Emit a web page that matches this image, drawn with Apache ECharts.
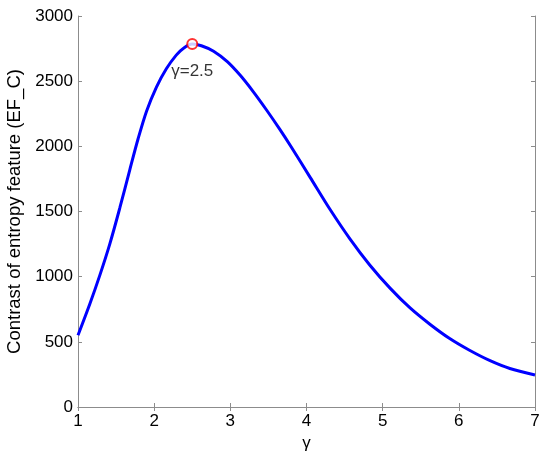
<!DOCTYPE html>
<html>
<head>
<meta charset="utf-8">
<script src="https://cdn.jsdelivr.net/npm/echarts@6/dist/echarts.min.js"></script>
<style>
  html, body { margin: 0; padding: 0; background: #fff; }
  #main { width: 550px; height: 459px; }
</style>
</head>
<body>
<div id="main"></div>
<script>
// gamma values and contrast of entropy feature
const gammaList = [1.0, 1.155, 1.286, 1.417, 1.548, 1.68, 1.79, 1.9, 2.03, 2.16, 2.29, 2.39, 2.5, 2.62, 2.78, 2.96, 3.13, 3.3, 3.48, 3.65, 3.8, 4.05, 4.31, 4.57, 4.83, 5.1, 5.36, 5.62, 5.88, 6.14, 6.41, 6.67, 7.0]
const efcList = [550, 790, 1010, 1250, 1525, 1820, 2060, 2270, 2455, 2595, 2700, 2755, 2785, 2772, 2730, 2650, 2545, 2420, 2275, 2130, 1995, 1760, 1515, 1290, 1090, 910, 760, 635, 525, 435, 355, 295, 245]
const peakPoint = [2.5, 2785]
const peakLabel = 'γ=2.5'

const font = 'Liberation Sans, Arial, Helvetica, sans-serif'
const axisColor = '#8c8c8c'

const myChart = echarts.init(document.getElementById('main'))

const boxAxis = {
  axisLine: { show: true, lineStyle: { color: axisColor, width: 1 } },
  axisTick: { show: true, inside: true, length: 4, lineStyle: { color: axisColor } },
  splitLine: { show: false }
}

const option = {
  animation: false,
  backgroundColor: '#fff',
  grid: { left: 78, right: 15, top: 16, bottom: 52, containLabel: false, outerBoundsMode: 'none' },
  xAxis: [
    {
      type: 'value',
      min: 1,
      max: 7,
      interval: 1,
      name: 'γ',
      nameLocation: 'middle',
      nameGap: 27,
      nameTextStyle: { color: '#000', fontSize: 17, fontFamily: font },
      axisLabel: { color: '#000', fontSize: 17, fontFamily: font, margin: 6, formatter: (v) => String(v) },
      ...boxAxis
    },
    {
      type: 'value',
      position: 'top',
      min: 1,
      max: 7,
      interval: 1,
      axisLabel: { show: false },
      ...boxAxis
    }
  ],
  yAxis: [
    {
      type: 'value',
      min: 0,
      max: 3000,
      interval: 500,
      name: 'Contrast of entropy feature (EF_C)',
      nameLocation: 'middle',
      nameGap: 49,
      nameTextStyle: { color: '#000', fontSize: 18.5, fontFamily: font },
      axisLabel: { color: '#000', fontSize: 17, fontFamily: font, margin: 5, formatter: (v) => String(v) },
      ...boxAxis
    },
    {
      type: 'value',
      position: 'right',
      min: 0,
      max: 3000,
      interval: 500,
      axisLabel: { show: false },
      ...boxAxis
    }
  ],
  series: [
    {
      name: 'EF_C',
      type: 'line',
      smooth: 0.3,
      showSymbol: false,
      data: gammaList.map((g, i) => [g, efcList[i]]),
      lineStyle: { color: '#0000ff', width: 3 },
      z: 2
    },
    {
      name: 'peak',
      type: 'scatter',
      data: [peakPoint],
      symbol: 'circle',
      symbolSize: 10,
      itemStyle: { color: '#fff', borderColor: '#ff0000', borderWidth: 2 },
      label: {
        show: true,
        position: 'bottom',
        distance: 13,
        formatter: peakLabel,
        color: '#000',
        fontSize: 17,
        fontFamily: font
      },
      z: 3
    }
  ]
}

myChart.setOption(option)
</script>
</body>
</html>
